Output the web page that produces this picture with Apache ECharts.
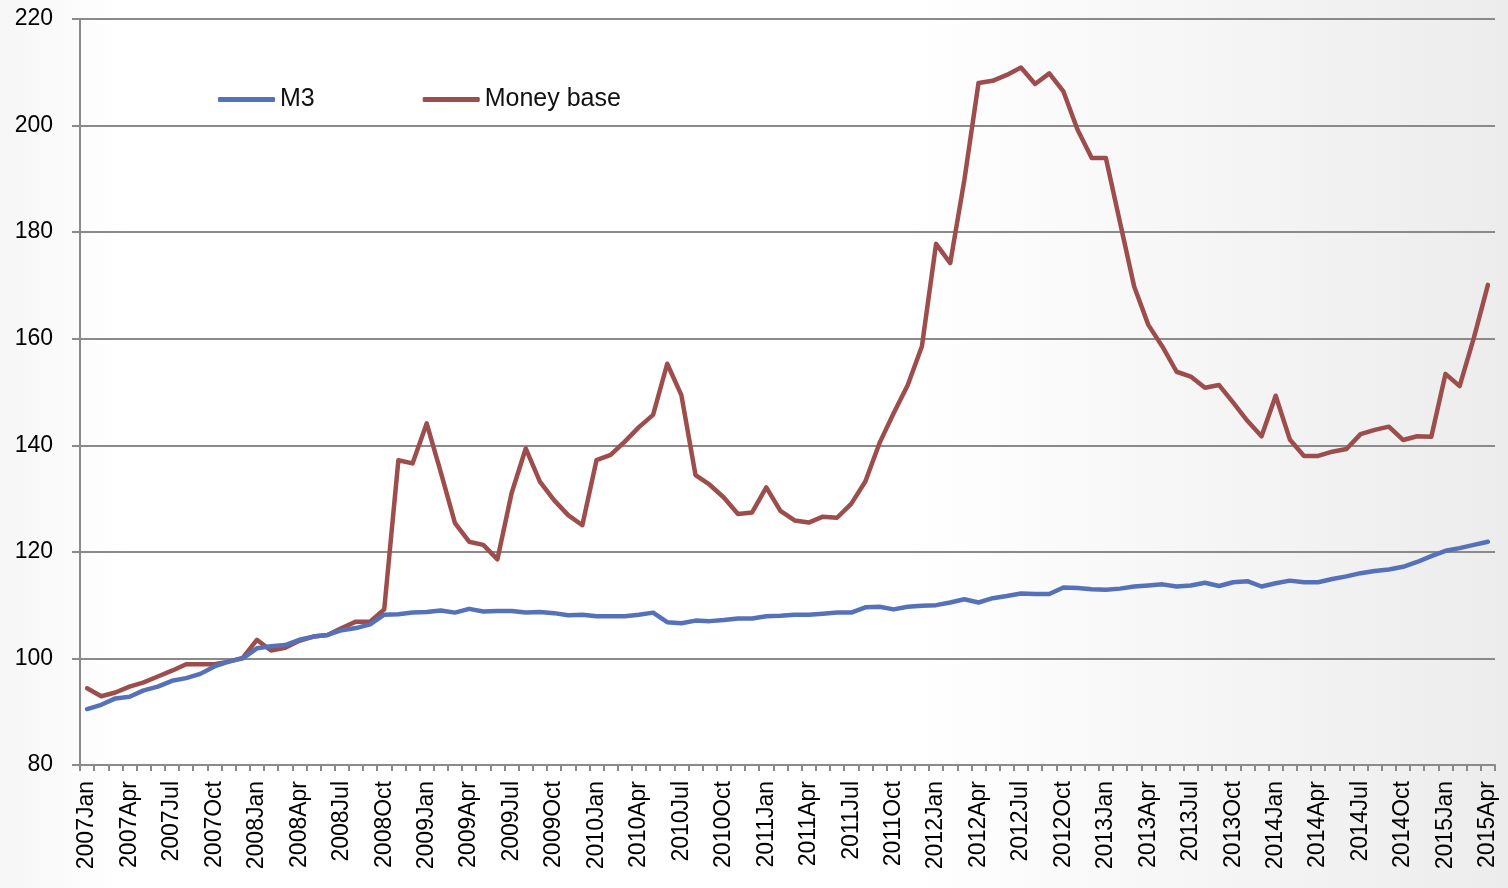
<!DOCTYPE html>
<html>
<head>
<meta charset="utf-8">
<script src="https://cdn.jsdelivr.net/npm/echarts@6/dist/echarts.min.js"></script>
<style>
  html, body { margin: 0; padding: 0; }
  #chart { width: 1508px; height: 888px; }
</style>
</head>
<body>
<div id="chart"></div>
<script>
// Monthly index levels, January 2007 to April 2015
const years = [2007, 2008, 2009, 2010, 2011, 2012, 2013, 2014, 2015];
const months = ['Jan', 'Feb', 'Mar', 'Apr', 'May', 'Jun', 'Jul', 'Aug', 'Sep', 'Oct', 'Nov', 'Dec'];
const lastMonthCount = 4; // 2015 runs Jan..Apr

const m3 = [
  90.5, 91.3, 92.5, 92.8, 94.0, 94.7, 95.8, 96.3, 97.1, 98.5, 99.4, 100.0,
  101.9, 102.3, 102.5, 103.5, 104.1, 104.4, 105.3, 105.7, 106.4, 108.2, 108.3, 108.6,
  108.7, 109.0, 108.6, 109.3, 108.8, 108.9, 108.9, 108.6, 108.7, 108.5, 108.1, 108.2,
  107.9, 107.9, 107.9, 108.2, 108.6, 106.8, 106.6, 107.1, 107.0, 107.2, 107.5, 107.5,
  107.9, 108.0, 108.2, 108.2, 108.4, 108.6, 108.6, 109.6, 109.7, 109.2, 109.7, 109.9,
  110.0, 110.5, 111.1, 110.5, 111.3, 111.7, 112.2, 112.1, 112.1, 113.3, 113.2, 113.0,
  112.9, 113.1, 113.5, 113.7, 113.9, 113.5, 113.7, 114.2, 113.6, 114.3, 114.5, 113.5,
  114.1, 114.6, 114.3, 114.3, 114.9, 115.4, 116.0, 116.4, 116.7, 117.2, 118.1, 119.2,
  120.2, 120.7, 121.3, 121.9
];

const moneyBase = [
  94.4, 92.9, 93.6, 94.7, 95.5, 96.6, 97.7, 98.9, 98.9, 98.9, 99.4, 100.1,
  103.5, 101.5, 102.0, 103.3, 104.1, 104.4, 105.7, 106.9, 106.9, 109.2, 137.2, 136.6,
  144.1, 134.9, 125.4, 121.9, 121.3, 118.6, 131.0, 139.4, 133.2, 129.7, 126.9, 125.0,
  137.2, 138.2, 140.7, 143.4, 145.7, 155.3, 149.4, 134.4, 132.6, 130.2, 127.1, 127.4,
  132.1, 127.7, 125.9, 125.5, 126.6, 126.4, 129.0, 133.2, 140.4, 146.0, 151.3, 158.6,
  177.8, 174.2, 189.8, 208.0, 208.4, 209.5, 210.9, 207.8, 209.8, 206.4, 199.2, 193.9,
  193.9, 181.8, 169.8, 162.6, 158.5, 153.8, 152.9, 150.8, 151.3, 148.0, 144.6, 141.7,
  149.3, 141.1, 138.0, 138.0, 138.8, 139.3, 142.1, 142.9, 143.5, 141.0, 141.7, 141.6,
  153.4, 151.1, 160.1, 170.1
];

const yTicks = { min: 80, max: 220, step: 20 };

// Category labels such as "2007Jan"
const categories = [];
years.forEach((y, yi) => {
  const n = yi === years.length - 1 ? lastMonthCount : months.length;
  for (let m = 0; m < n; m++) categories.push(y + months[m]);
});

const FONT = '"Liberation Sans", Arial, sans-serif';
const GRID_GRAY = '#8a8a8a';

const chart = echarts.init(document.getElementById('chart'), null, { renderer: 'canvas' });

chart.setOption({
  animation: false,
  backgroundColor: {
    type: 'linear', x: 0, y: 0, x2: 1, y2: 0,
    colorStops: [
      { offset: 0, color: '#f6f6f6' },
      { offset: 0.08, color: '#ffffff' },
      { offset: 0.6, color: '#ffffff' },
      { offset: 1, color: '#ececec' }
    ]
  },
  textStyle: { fontFamily: FONT },
  grid: { left: 80, right: 13, top: 19, bottom: 123, containLabel: false },
  legend: {
    left: 213,
    top: 82,
    icon: 'roundRect',
    itemWidth: 57,
    itemHeight: 5,
    itemGap: 108,
    textStyle: { fontFamily: FONT, fontSize: 25, color: '#111' },
    data: ['M3', 'Money base']
  },
  xAxis: {
    type: 'category',
    data: categories,
    boundaryGap: true,
    axisLine: { show: true, lineStyle: { color: GRID_GRAY, width: 2 } },
    axisTick: { show: true, interval: 0, length: 6, lineStyle: { color: GRID_GRAY, width: 2 } },
    axisLabel: {
      interval: 2,
      rotate: 90,
      margin: 16,
      fontSize: 23,
      color: '#000',
      fontFamily: FONT
    },
    splitLine: { show: false }
  },
  yAxis: {
    type: 'value',
    min: yTicks.min,
    max: yTicks.max,
    interval: yTicks.step,
    axisLine: { show: true, lineStyle: { color: GRID_GRAY, width: 2 } },
    axisTick: { show: true, length: 8, lineStyle: { color: GRID_GRAY, width: 2 } },
    axisLabel: { margin: 27, fontSize: 23, color: '#000', fontFamily: FONT },
    splitLine: { show: true, lineStyle: { color: GRID_GRAY, width: 2 } }
  },
  series: [
    {
      name: 'M3',
      type: 'line',
      data: m3,
      symbol: 'none',
      color: '#5571b9',
      lineStyle: { width: 4.5, color: '#5571b9', cap: 'round', join: 'round' },
      z: 3
    },
    {
      name: 'Money base',
      type: 'line',
      data: moneyBase,
      symbol: 'none',
      color: '#9c4d4c',
      lineStyle: { width: 4.5, color: '#9c4d4c', cap: 'round', join: 'round' },
      z: 2
    }
  ]
});
</script>
</body>
</html>
